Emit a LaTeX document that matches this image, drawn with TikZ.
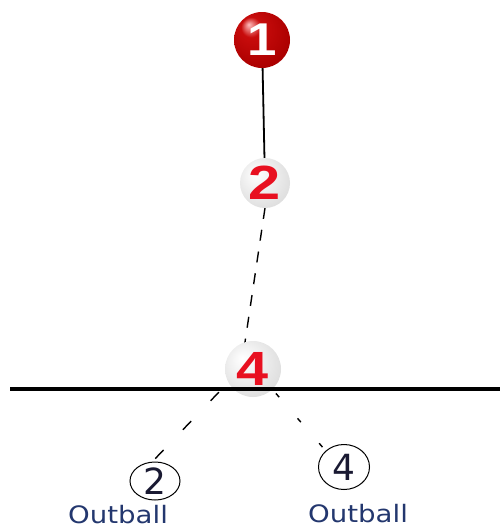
\documentclass[tikz,border=0pt]{standalone}
\usepackage{fontspec}
\setmainfont{DejaVu Sans}
\newfontfamily\ballfont{Liberation Sans}
\usetikzlibrary{shapes.geometric}
\definecolor{rbhi}{RGB}{255,190,190}
\definecolor{rbmain}{RGB}{200,12,12}
\definecolor{rbmid}{RGB}{172,0,0}
\definecolor{rbedge}{RGB}{115,0,0}
\definecolor{gbmid}{RGB}{238,238,238}
\definecolor{gbedge}{RGB}{216,216,216}
\definecolor{numred}{RGB}{232,16,32}
\definecolor{navytext}{RGB}{35,55,110}
\definecolor{digitdark}{RGB}{25,25,50}
\pgfdeclareradialshading{redball}{\pgfpoint{-12bp}{14bp}}{color(0bp)=(rbhi); color(9bp)=(rbmain); color(30bp)=(rbmid); color(50bp)=(rbedge)}
\pgfdeclareradialshading{greyball}{\pgfpoint{-10bp}{10bp}}{color(0bp)=(white); color(16bp)=(gbmid); color(36bp)=(gbedge); color(50bp)=(gbedge)}
\begin{document}
\begin{tikzpicture}[x=1pt,y=-1pt,
  redballnode/.style={circle,inner sep=0pt,minimum size=56pt,shading=redball},
  greyballnode/.style={circle,inner sep=0pt,minimum size=#1,shading=greyball},
  ringnode/.style={draw,ellipse,inner sep=0pt,line width=1pt,text=digitdark},
  outlabel/.style={anchor=base,text=navytext,inner sep=0pt},
  solidlink/.style={line width=1.8pt},
  upperdash/.style={line width=1.4pt,dash pattern=on 11pt off 11pt},
  leftdash/.style={line width=1.4pt,dash pattern=on 12pt off 28pt,dash phase=8pt},
  rightdash/.style={line width=1.4pt,dash pattern=on 5pt off 28pt,dash phase=31pt},
  groundline/.style={line width=3.5pt}]
\useasboundingbox (0,0) rectangle (500,530);
% anchors for connectors
\coordinate (p4a) at (241,369);
\coordinate (p4b) at (253,367);
\coordinate (gl) at (10,389);
\coordinate (gr) at (500,389);
% rings and labels
\node[ringnode,minimum width=50pt,minimum height=38pt] (c2) at (155,481) {\fontsize{36}{36}\selectfont 2};
\node[ringnode,minimum width=51pt,minimum height=45pt] (c4) at (344,467) {\fontsize{36}{36}\selectfont 4};
\coordinate (c2t) at (152,462);
\coordinate (c4t) at (325,450);
\node[outlabel] (l2) at (118,523) {\fontsize{24}{24}\selectfont\scalebox{1.15}[1]{Outball}};
\node[outlabel] (l4) at (358,522) {\fontsize{24}{24}\selectfont\scalebox{1.15}[1]{Outball}};
% connectors (behind balls)
\coordinate (b1c) at (262,40);
\coordinate (b2c) at (265,183);
\coordinate (b2s) at (265,208);
\draw[solidlink] (b1c) -- (b2c);
\draw[upperdash] (b2s) -- (p4a);
\draw[leftdash] (p4a) -- (c2t);
\draw[rightdash] (p4b) -- (c4t);
% balls
\node[redballnode] (b1) at (b1c) {\ballfont\bfseries\color{white}\fontsize{46}{46}\selectfont\scalebox{1.15}[1]{1}};
\node[greyballnode=50pt] (b2) at (b2c) {\ballfont\bfseries\color{numred}\fontsize{48}{48}\selectfont\scalebox{1.2}[1]{2}};
\node[greyballnode=56pt] (b4) at (253,369) {\ballfont\bfseries\color{numred}\fontsize{48}{48}\selectfont\scalebox{1.2}[1]{4}};
% ground line
\draw[groundline] (gl) -- (gr);
\end{tikzpicture}
\end{document}
